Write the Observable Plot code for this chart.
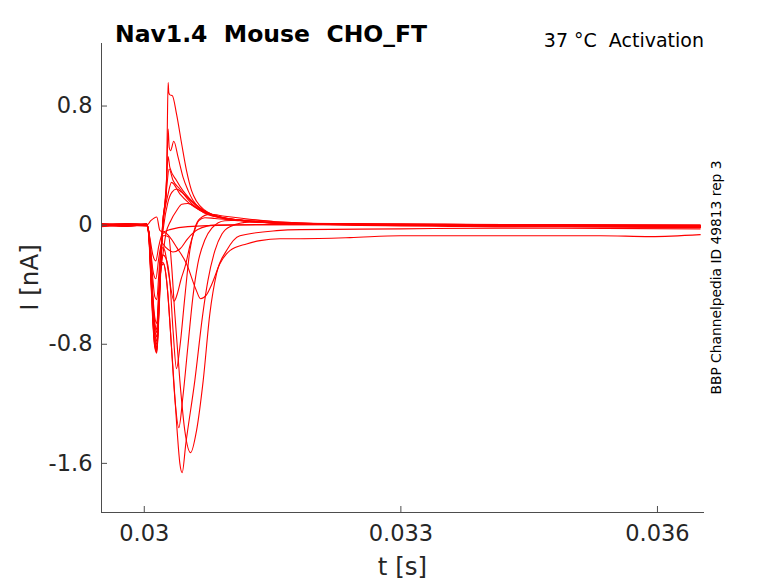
<!DOCTYPE html>
<html><head><meta charset="utf-8">
<script src="https://cdn.jsdelivr.net/npm/d3@7"></script>
<script src="https://cdn.jsdelivr.net/npm/@observablehq/plot@0.6"></script>
<style>
body{margin:0;background:#fff;}
#chart{width:778px;height:583px;}
text{white-space:pre;}
</style></head><body><div id="chart"></div>
<script>
const xTicks = [0.03, 0.033, 0.036];
const yTicks = [-1.6, -0.8, 0, 0.8];
const xDomain = [0.0295, 0.03655];
const yDomain = [-1.93, 1.22];
const title = "Nav1.4  Mouse  CHO_FT";
const condition = "37 °C  Activation";
const sourceNote = "BBP Channelpedia ID 49813 rep 3";
const xLabel = "t [s]";
const yLabel = "I [nA]";

// [time (s), current (nA)]
const p1 = [[0.0295,0.01],[0.0298,0.005],[0.03003,0.01],[0.030053,-0.08],[0.030076,-0.35],[0.0301,-0.65],[0.030123,-0.82],[0.030146,-0.86],[0.03017,-0.62],[0.030193,-0.3],[0.030217,0.0],[0.03024,0.12],[0.030257,0.2],[0.030268,0.6],[0.030279,0.957],[0.030287,0.89],[0.0303,0.875],[0.030328,0.87],[0.030377,0.747],[0.030439,0.54],[0.030494,0.366],[0.030553,0.232],[0.030611,0.16],[0.030708,0.1],[0.030884,0.055],[0.031235,0.025],[0.0318,0.01],[0.033,0.005],[0.0345,0.0],[0.0365,-0.005]];
const p2 = [[0.0295,0],[0.0298,0.01],[0.03003,0],[0.030053,-0.07],[0.030076,-0.33],[0.0301,-0.63],[0.030123,-0.81],[0.030146,-0.85],[0.03017,-0.6],[0.030193,-0.28],[0.030217,0.02],[0.03024,0.14],[0.030257,0.25],[0.030268,0.45],[0.030279,0.646],[0.030292,0.52],[0.030307,0.5],[0.030345,0.563],[0.030396,0.455],[0.030454,0.321],[0.030513,0.232],[0.030571,0.165],[0.03066,0.11],[0.03085,0.06],[0.0312,0.03],[0.0318,0.01],[0.0335,0.0],[0.0365,-0.005]];
const p3 = [[0.0295,0.005],[0.0298,-0.005],[0.03003,0.005],[0.030053,-0.07],[0.030076,-0.32],[0.0301,-0.62],[0.030123,-0.8],[0.030146,-0.84],[0.03017,-0.58],[0.030193,-0.26],[0.030217,0.03],[0.03024,0.14],[0.03026,0.3],[0.030279,0.46],[0.030299,0.388],[0.030377,0.3],[0.030454,0.23],[0.030533,0.176],[0.03064,0.12],[0.0308,0.07],[0.0311,0.035],[0.0318,0.012],[0.0335,0.005],[0.0365,-0.01]];
const p4 = [[0.0295,-0.005],[0.0298,0.0],[0.03003,-0.005],[0.030053,-0.06],[0.030076,-0.3],[0.0301,-0.6],[0.030123,-0.78],[0.030146,-0.83],[0.03017,-0.56],[0.030193,-0.24],[0.030217,0.02],[0.03024,0.13],[0.030262,0.25],[0.03029,0.377],[0.030337,0.3],[0.030416,0.243],[0.0305,0.18],[0.0306,0.12],[0.03078,0.07],[0.0311,0.035],[0.0318,0.012],[0.0335,0.0],[0.0365,-0.012]];
const p5 = [[0.0295,0.008],[0.0298,0.0],[0.03003,0.0],[0.030053,-0.06],[0.030076,-0.3],[0.0301,-0.58],[0.030123,-0.77],[0.030146,-0.82],[0.03017,-0.55],[0.030193,-0.24],[0.030217,0.0],[0.03024,0.1],[0.030275,0.2],[0.030319,0.287],[0.030416,0.21],[0.03052,0.15],[0.03065,0.1],[0.03085,0.06],[0.0312,0.03],[0.0318,0.01],[0.0335,0.005],[0.0365,-0.008]];
const p6 = [[0.0295,-0.008],[0.0298,0.005],[0.03003,0.0],[0.030053,-0.06],[0.030076,-0.28],[0.0301,-0.56],[0.030123,-0.75],[0.030146,-0.8],[0.03017,-0.52],[0.030193,-0.2],[0.030228,0.0],[0.030275,0.15],[0.030322,0.22],[0.030377,0.243],[0.030439,0.22],[0.030533,0.17],[0.030626,0.12],[0.030767,0.07],[0.031001,0.04],[0.031353,0.02],[0.032406,0.005],[0.034163,0.0],[0.0365,-0.01]];
const p7 = [[0.0295,0.0],[0.0298,-0.008],[0.03003,0.0],[0.030053,-0.05],[0.030076,-0.26],[0.0301,-0.54],[0.030123,-0.72],[0.030146,-0.78],[0.03017,-0.5],[0.030193,-0.3],[0.030217,-0.2],[0.030252,-0.06],[0.03031,0.03],[0.030381,0.1],[0.030439,0.14],[0.030509,0.145],[0.030607,0.12],[0.030708,0.08],[0.030884,0.05],[0.031177,0.03],[0.031587,0.015],[0.032992,0.005],[0.0365,0.0]];
const nb = [[0.0295,0.005],[0.0298,0.0],[0.03003,0.005],[0.030053,-0.05],[0.030076,-0.25],[0.0301,-0.52],[0.030123,-0.7],[0.030146,-0.75],[0.03017,-0.52],[0.030193,-0.3],[0.030217,-0.2],[0.030252,-0.22],[0.030299,-0.373],[0.030337,-0.71],[0.030377,-0.964],[0.030416,-0.82],[0.030474,-0.485],[0.030533,-0.17],[0.030591,-0.02],[0.03065,0.044],[0.030767,0.072],[0.030943,0.06],[0.031235,0.04],[0.031587,0.02],[0.032406,0.005],[0.034163,-0.005],[0.0365,-0.015]];
const nc = [[0.0295,-0.005],[0.0298,0.005],[0.03003,0.0],[0.030053,-0.05],[0.030076,-0.24],[0.0301,-0.5],[0.030123,-0.67],[0.030146,-0.72],[0.03017,-0.5],[0.030193,-0.3],[0.030217,-0.25],[0.030252,-0.33],[0.030279,-0.485],[0.030318,-0.82],[0.030357,-1.157],[0.030404,-1.36],[0.030451,-1.156],[0.030509,-0.82],[0.030568,-0.485],[0.030626,-0.26],[0.030708,-0.1],[0.03079,-0.02],[0.030943,0.03],[0.031235,0.035],[0.031587,0.02],[0.032406,0.005],[0.034163,-0.005],[0.0365,-0.01]];
const nd = [[0.0295,0.0],[0.0298,-0.005],[0.03003,0.0],[0.030053,-0.05],[0.030076,-0.23],[0.0301,-0.47],[0.030123,-0.62],[0.030146,-0.66],[0.03017,-0.45],[0.030193,-0.28],[0.030228,-0.26],[0.030263,-0.38],[0.030299,-0.65],[0.030345,-1.044],[0.030384,-1.38],[0.030416,-1.6],[0.030443,-1.662],[0.030486,-1.467],[0.030591,-1.044],[0.030685,-0.594],[0.030744,-0.373],[0.030826,-0.171],[0.030908,-0.06],[0.031001,-0.01],[0.031235,0.02],[0.031587,0.015],[0.032406,0.0],[0.034163,-0.01],[0.0365,-0.015]];
const ne = [[0.0295,-0.01],[0.0298,0.0],[0.03003,-0.005],[0.030053,-0.04],[0.030076,-0.18],[0.0301,-0.36],[0.030123,-0.48],[0.030146,-0.5],[0.03017,-0.33],[0.030193,-0.15],[0.030228,-0.07],[0.030287,-0.08],[0.030318,-0.26],[0.030357,-0.594],[0.030416,-1.044],[0.030474,-1.38],[0.030542,-1.528],[0.030611,-1.38],[0.030689,-1.044],[0.030767,-0.594],[0.030845,-0.326],[0.030962,-0.171],[0.031118,-0.071],[0.031548,-0.037],[0.031821,-0.03],[0.032992,-0.025],[0.034163,-0.02],[0.0365,-0.025]];
const nf = [[0.0295,0.0],[0.0298,0.008],[0.03003,0.0],[0.030053,-0.05],[0.030076,-0.24],[0.0301,-0.5],[0.030123,-0.66],[0.030146,-0.7],[0.03017,-0.45],[0.030193,-0.22],[0.030217,-0.15],[0.03024,-0.171],[0.030279,-0.306],[0.030349,-0.51],[0.030392,-0.45],[0.030427,-0.37],[0.030486,-0.26],[0.030533,-0.14],[0.03058,-0.05],[0.030638,0.03],[0.030708,0.05],[0.030826,0.045],[0.031118,0.03],[0.031587,0.012],[0.032992,0.0],[0.0365,-0.012]];
const ng = [[0.0295,0.005],[0.0298,-0.005],[0.03003,0.0],[0.030064,-0.08],[0.0301,-0.2],[0.030135,-0.24],[0.03017,-0.14],[0.03021,-0.06],[0.03024,-0.05],[0.030299,-0.08],[0.030381,-0.151],[0.030494,-0.259],[0.030603,-0.43],[0.030658,-0.494],[0.030725,-0.47],[0.030787,-0.4],[0.030884,-0.26],[0.031001,-0.171],[0.031196,-0.126],[0.031353,-0.104],[0.031587,-0.091],[0.031821,-0.091],[0.032406,-0.084],[0.032992,-0.071],[0.034163,-0.071],[0.035334,-0.071],[0.035919,-0.077],[0.0365,-0.064]];
const ns = [[0.0295,0.0],[0.0298,0.005],[0.03003,0.0],[0.030076,0.03],[0.030146,0.055],[0.030182,-0.035],[0.030217,-0.045],[0.030299,-0.03],[0.030509,-0.01],[0.031001,0.0],[0.033,0.005],[0.0365,0.0]];
const nh = [[0.0295,0.005],[0.0298,0.0],[0.03003,0.005],[0.030064,-0.1],[0.0301,-0.3],[0.030135,-0.36],[0.03017,-0.22],[0.030205,-0.12],[0.030252,-0.15],[0.030334,-0.18],[0.030416,-0.16],[0.030509,-0.09],[0.030626,-0.03],[0.030826,0.0],[0.031587,0.005],[0.0365,-0.005]];

const traces = {p1, p2, p3, p4, p5, p6, p7, nb, nc, nd, ne, nf, ng, ns, nh};
const rows = Object.entries(traces).flatMap(([k, pts]) => pts.map(([t, i]) => ({trace: k, t, i})));

const W = 778, H = 583, mL = 101, mR = 74, mT = 43, mB = 71;
const frameW = W - mL - mR, frameH = H - mT - mB;
const axisColor = "#4d4d4d", textColor = "#262626";

const svg = Plot.plot({
  width: W, height: H,
  marginLeft: mL, marginRight: mR, marginTop: mT, marginBottom: mB,
  x: {domain: xDomain},
  y: {domain: yDomain},
  style: {fontFamily: "DejaVu Sans", background: "white", color: textColor, overflow: "visible"},
  marks: [
    Plot.line(rows, {x: "t", y: "i", z: "trace", stroke: "#ff0000", strokeWidth: 1.1, curve: "monotone-x"}),
    Plot.ruleX([xDomain[0]], {stroke: axisColor}),
    Plot.ruleY([yDomain[0]], {stroke: axisColor}),
    Plot.tickY(yTicks, {y: d => d, insetRight: frameW - 6, stroke: axisColor}),
    Plot.tickX(xTicks, {x: d => d, insetTop: frameH - 6, stroke: axisColor}),
    Plot.axisX({ticks: xTicks, tickSize: 0, tickPadding: 13, fontSize: 22.5, tickFormat: d => String(d), label: null}),
    Plot.axisY({ticks: yTicks, tickSize: 0, tickPadding: 9, fontSize: 22.5, tickFormat: d => String(d), label: null})
  ]
});

const s = d3.select(svg);
s.append("text").attr("x", 115).attr("y", 42.3).attr("font-size", 23.5).attr("font-weight", "bold")
  .attr("text-anchor", "start").attr("fill", "#000").text(title);
s.append("text").attr("x", 704).attr("y", 46.7).attr("font-size", 19).attr("text-anchor", "end")
  .attr("fill", "#000").text(condition);
s.append("text").attr("x", (mL + W - mR) / 2).attr("y", 575).attr("font-size", 24.5).attr("text-anchor", "middle")
  .attr("fill", textColor).text(xLabel);
s.append("text").attr("transform", `translate(38,${(mT + H - mB) / 2}) rotate(-90)`).attr("font-size", 24.5)
  .attr("text-anchor", "middle").attr("fill", textColor).text(yLabel);
s.append("text").attr("transform", `translate(721,${(mT + H - mB) / 2}) rotate(-90)`).attr("font-size", 13.8)
  .attr("text-anchor", "middle").attr("fill", "#000").text(sourceNote);

document.getElementById("chart").appendChild(svg);
</script></body></html>
